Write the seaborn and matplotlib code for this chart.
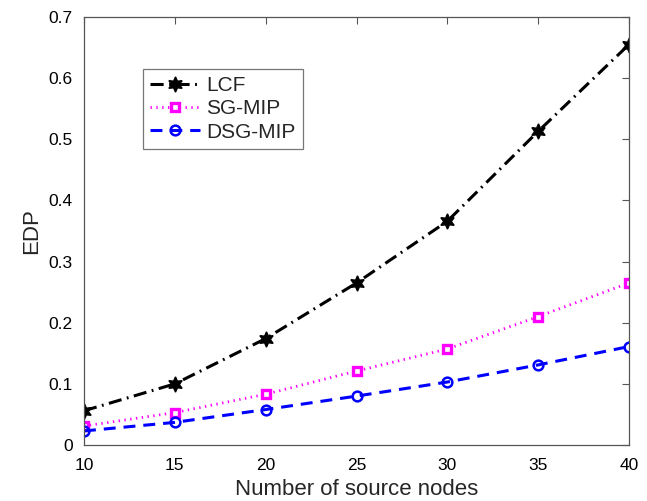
import matplotlib
matplotlib.use("Agg")
import matplotlib.pyplot as plt
import seaborn as sns
import pandas as pd

nodes = [10, 15, 20, 25, 30, 35, 40]
lcf = [0.056, 0.100, 0.174, 0.265, 0.366, 0.513, 0.655]
sg_mip = [0.031, 0.053, 0.083, 0.121, 0.157, 0.210, 0.265]
dsg_mip = [0.023, 0.037, 0.058, 0.080, 0.103, 0.131, 0.161]

sns.set_style("white")
plt.rcParams['font.family'] = ['Liberation Sans', 'DejaVu Sans']

fig = plt.figure(figsize=(6.47, 5.01), dpi=100)
ax = fig.add_axes([84/647, 1-445/501, (629-84)/647, (445-17)/501])

df = pd.DataFrame({"x": nodes, "LCF": lcf, "SG-MIP": sg_mip, "DSG-MIP": dsg_mip})

sns.lineplot(data=df, x="x", y="LCF", ax=ax, color="black", lw=2.2,
             linestyle=(0, (4.3, 1.8, 0.6, 1.8)), marker=(6, 1, 0), markersize=11,
             markerfacecolor="black", markeredgecolor="black", markeredgewidth=1.0, label="LCF")
sns.lineplot(data=df, x="x", y="SG-MIP", ax=ax, color="#ff00ff", lw=2.0,
             linestyle=(0, (0.5, 1.6)), marker="s", markersize=6,
             markerfacecolor="white", markeredgecolor="#ff00ff", markeredgewidth=2.4, label="SG-MIP")
sns.lineplot(data=df, x="x", y="DSG-MIP", ax=ax, color="#0000ff", lw=2.2,
             linestyle=(0, (3.9, 2.6)), marker="o", markersize=7,
             markerfacecolor="none", markeredgecolor="#0000ff", markeredgewidth=1.8, label="DSG-MIP")

ax.set_xlim(10, 40)
ax.set_ylim(0, 0.7)
ax.set_xticks(nodes)
ax.set_yticks([0, 0.1, 0.2, 0.3, 0.4, 0.5, 0.6, 0.7])
ax.set_yticklabels(["0", "0.1", "0.2", "0.3", "0.4", "0.5", "0.6", "0.7"])
ax.tick_params(direction="in", top=True, right=True, length=5, width=0.8,
               labelsize=12.5, colors="#555555", labelcolor="black")
ax.tick_params(axis="x", pad=9)
ax.tick_params(axis="y", pad=8)
for s in ax.spines.values():
    s.set_color("#555555")
    s.set_linewidth(0.9)
ax.set_xlabel("Number of source nodes", fontsize=16, labelpad=5)
ax.set_ylabel("EDP", fontsize=16, labelpad=5)

leg = ax.legend(loc="upper left", bbox_to_anchor=(59/545, 1-(69-17)/428), fontsize=15,
                frameon=True, fancybox=False, edgecolor="#555555",
                handlelength=2.4, handletextpad=0.3, borderpad=0.35, labelspacing=0.2,
                borderaxespad=0)
leg.get_frame().set_linewidth(0.9)

fig.savefig("out.png", dpi=100)
